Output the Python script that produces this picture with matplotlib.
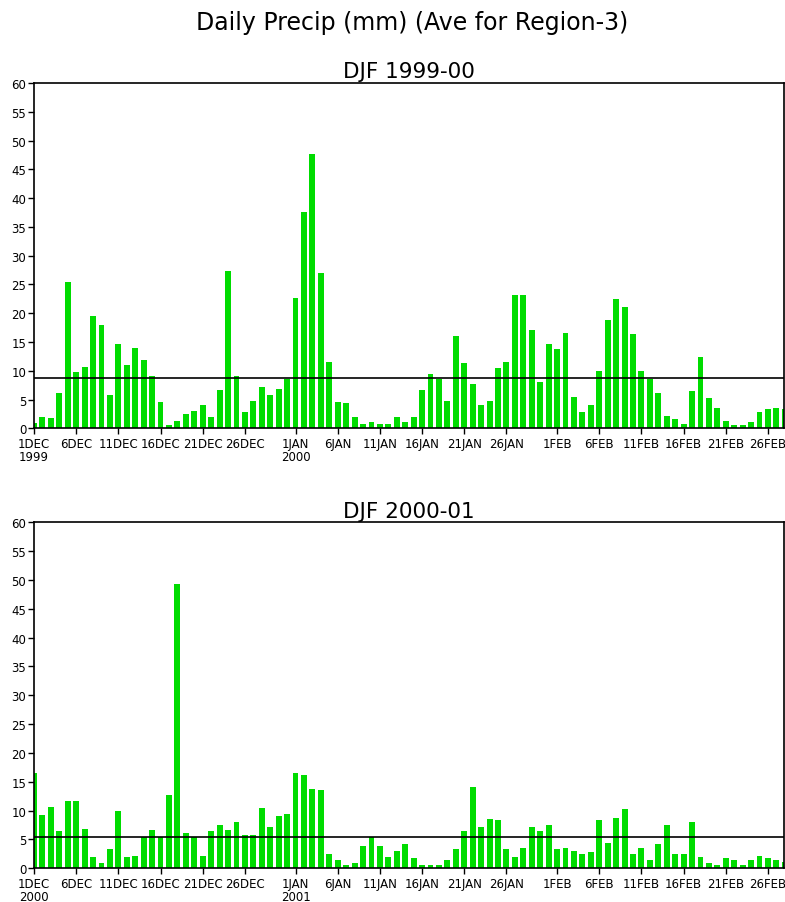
import numpy as np
import matplotlib
matplotlib.use("Agg")
import matplotlib.pyplot as plt

# daily precip (mm), index 0 = 1 Dec
precip_9900 = [0.9, 2.0, 1.8, 6.1, 25.4, 9.8, 10.6, 19.6, 18.0, 5.8,
               14.6, 11.0, 13.9, 11.9, 9.1, 4.5, 0.5, 1.3, 2.4, 3.0,
               4.1, 1.9, 6.6, 27.3, 9.1, 2.8, 4.7, 7.1, 5.8, 6.9,
               8.6, 22.6, 37.5, 47.7, 27.0, 11.6, 4.6, 4.4, 1.9, 0.8,
               1.1, 0.8, 0.8, 1.9, 1.1, 1.9, 6.6, 9.4, 8.6, 4.7,
               16.0, 11.3, 7.7, 4.1, 4.7, 10.5, 11.6, 23.2, 23.2, 17.1,
               8.0, 14.6, 13.8, 16.5, 5.5, 2.8, 4.1, 9.9, 18.8, 22.4,
               21.0, 16.3, 9.9, 8.6, 6.1, 2.2, 1.6, 0.8, 6.4, 12.4,
               5.2, 3.5, 1.3, 0.5, 0.5, 1.1, 2.8, 3.3, 3.5, 3.3]
precip_0001 = [16.5, 9.3, 10.7, 6.4, 11.6, 11.6, 6.9, 1.9, 0.9, 3.3,
               9.9, 1.9, 2.2, 5.4, 6.6, 5.4, 12.7, 49.3, 6.1, 5.4,
               2.2, 6.4, 7.5, 6.6, 8.0, 5.8, 5.8, 10.5, 7.2, 9.1,
               9.4, 16.5, 16.2, 13.8, 13.5, 2.5, 1.4, 0.6, 0.9, 3.9,
               5.4, 3.9, 1.9, 3.0, 4.2, 1.7, 0.6, 0.6, 0.6, 1.4,
               3.3, 6.4, 14.1, 7.2, 8.6, 8.3, 3.3, 1.9, 3.6, 7.2,
               6.4, 7.5, 3.3, 3.6, 3.0, 2.5, 2.8, 8.3, 4.4, 8.8,
               10.2, 2.5, 3.6, 1.4, 4.2, 7.5, 2.5, 2.5, 8.0, 1.9,
               0.9, 0.6, 1.7, 1.4, 0.6, 1.4, 2.2, 1.7, 1.4, 1.1]
mean_9900 = 8.7
mean_0001 = 5.45

tick_idx = [0, 5, 10, 15, 20, 25, 31, 36, 41, 46, 51, 56, 62, 67, 72, 77, 82, 87]
tick_lab_9900 = ["1DEC\n1999", "6DEC", "11DEC", "16DEC", "21DEC", "26DEC",
                 "1JAN\n2000", "6JAN", "11JAN", "16JAN", "21JAN", "26JAN",
                 "1FEB", "6FEB", "11FEB", "16FEB", "21FEB", "26FEB"]
tick_lab_0001 = ["1DEC\n2000", "6DEC", "11DEC", "16DEC", "21DEC", "26DEC",
                 "1JAN\n2001", "6JAN", "11JAN", "16JAN", "21JAN", "26JAN",
                 "1FEB", "6FEB", "11FEB", "16FEB", "21FEB", "26FEB"]

W, H = 785, 903
fig = plt.figure(figsize=(W / 100, H / 100), dpi=100)

def panel(rect, vals, mean, labels, title):
    ax = fig.add_axes(rect)
    x = np.arange(len(vals))
    ax.bar(x, vals, width=0.7, color="#00dc00", zorder=2)
    ax.axhline(mean, color="black", lw=1.2, zorder=3)
    ax.set_xlim(0, 88.9)
    ax.set_ylim(0, 60)
    ax.set_yticks(np.arange(0, 61, 5))
    ax.set_xticks(tick_idx)
    ax.set_xticklabels(labels, linespacing=0.95)
    ax.tick_params(axis="both", direction="out", length=4, width=1, labelsize=8.5)
    ax.tick_params(axis="x", pad=2.5)
    ax.tick_params(axis="y", pad=1.5)
    for s in ax.spines.values():
        s.set_linewidth(1.2)
    ax.set_title(title, fontsize=15.5, pad=4)
    return ax

panel([34 / W, (H - 429.3) / H, 750 / W, 345.3 / H], precip_9900, mean_9900,
      tick_lab_9900, "DJF 1999-00")
panel([34 / W, (H - 869.3) / H, 750 / W, 346 / H], precip_0001, mean_0001,
      tick_lab_0001, "DJF 2000-01")

fig.text(412 / W, 1 - 23 / H, "Daily Precip (mm) (Ave for Region-3)",
         ha="center", va="center", fontsize=17)

fig.savefig("out.png", dpi=100)
